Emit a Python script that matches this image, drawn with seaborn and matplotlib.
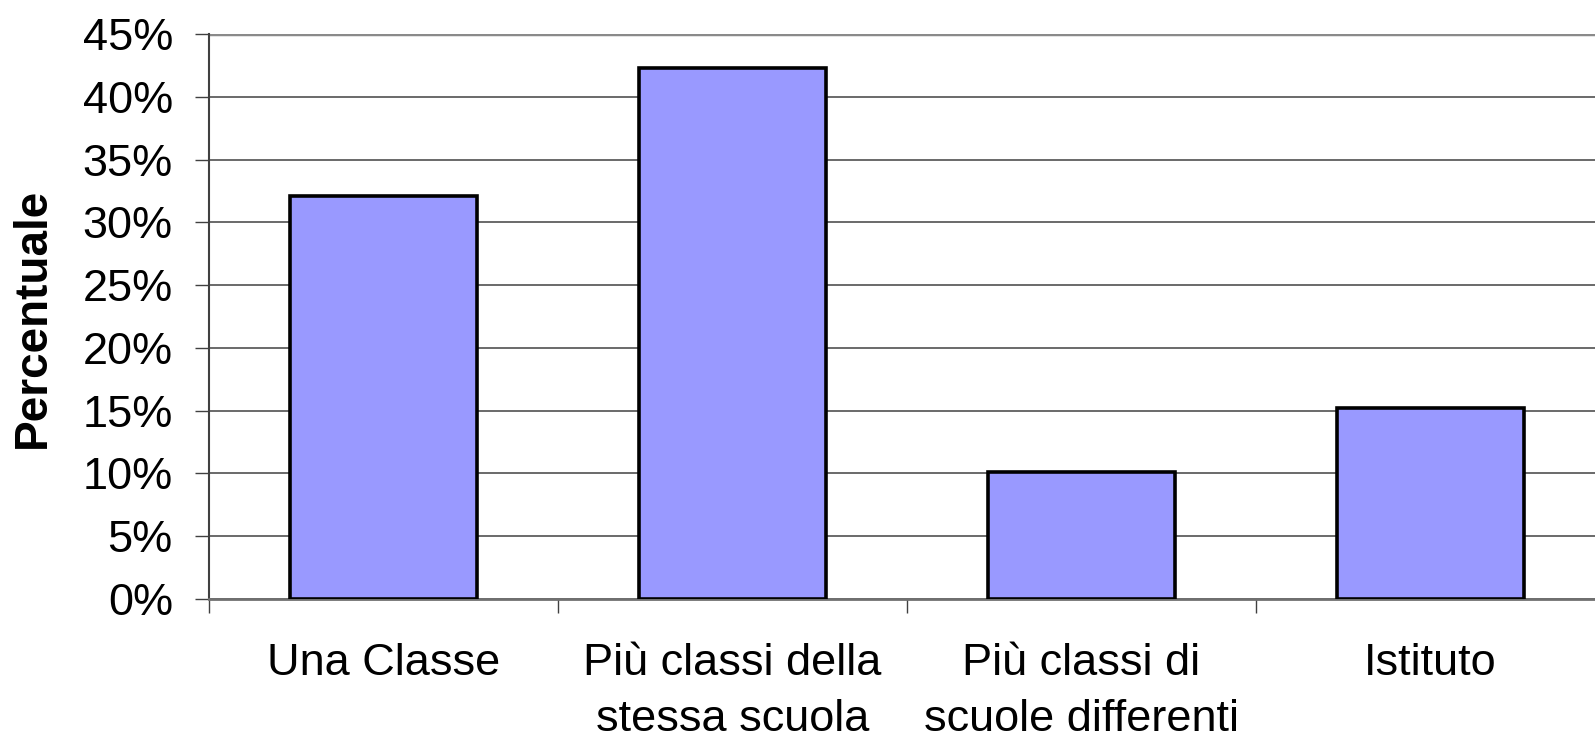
import matplotlib
matplotlib.use("Agg")
import matplotlib.pyplot as plt
from matplotlib.ticker import FuncFormatter, FixedLocator
import seaborn as sns
import pandas as pd

sns.set_theme(style="white")
plt.rcParams["font.family"] = ["Liberation Sans", "DejaVu Sans"]
plt.rcParams["text.color"] = "black"
plt.rcParams["xtick.color"] = "black"
plt.rcParams["ytick.color"] = "black"

# Data
categories = ["Una Classe", "Più classi della\nstessa scuola",
              "Più classi di\nscuole differenti", "Istituto"]
percent = [32.1, 42.3, 10.1, 15.2]
y_ticks = [0, 5, 10, 15, 20, 25, 30, 35, 40, 45]

df = pd.DataFrame({"categoria": categories, "percentuale": percent})

fig = plt.figure(figsize=(15.95, 7.38), dpi=100)
ax = fig.add_axes([209 / 1595, 1 - 599 / 738, 1396 / 1595, 565 / 738])

sns.barplot(data=df, x="categoria", y="percentuale", color="#9999FF",
            saturation=1, width=0.535, edgecolor="black", linewidth=2.6, ax=ax, zorder=3)

ax.set_xlim(-0.5, 3.5)
ax.set_ylim(0, 45)
ax.set_yticks(y_ticks)
ax.yaxis.set_major_formatter(FuncFormatter(lambda v, p: f"{v:.0f}%"))
ax.grid(axis="y", color="#505050", linewidth=1.2, zorder=0)
ax.set_axisbelow(True)

# tick styling
ax.tick_params(axis="y", which="major", left=True, length=10, width=1, color="#404040",
               labelsize=32.5, pad=16, labelcolor="black")
ax.tick_params(axis="x", which="major", bottom=False, length=0, labelsize=32.5, pad=32,
               labelcolor="black")
ax.xaxis.set_minor_locator(FixedLocator([-0.5, 0.5, 1.5, 2.5]))
ax.tick_params(axis="x", which="minor", bottom=True, length=10, width=1, color="#404040")
for lab in ax.get_xticklabels():
    lab.set_linespacing(1.45)

for side in ["top", "right"]:
    ax.spines[side].set_visible(False)
ax.spines["left"].set_color("#404040")
ax.spines["left"].set_linewidth(1.5)
ax.spines["bottom"].set_color("#707070")
ax.spines["bottom"].set_linewidth(2)
ax.axhline(45, color="#8a8a8a", linewidth=2.5, zorder=1)

ax.set_xlabel("")
ax.set_ylabel("")
fig.text(33 / 1595, 1 - 318 / 738, "Percentuale", rotation=90, ha="center", va="center",
         fontsize=33, fontweight="bold", color="black")

fig.savefig("out.png", dpi=100)
